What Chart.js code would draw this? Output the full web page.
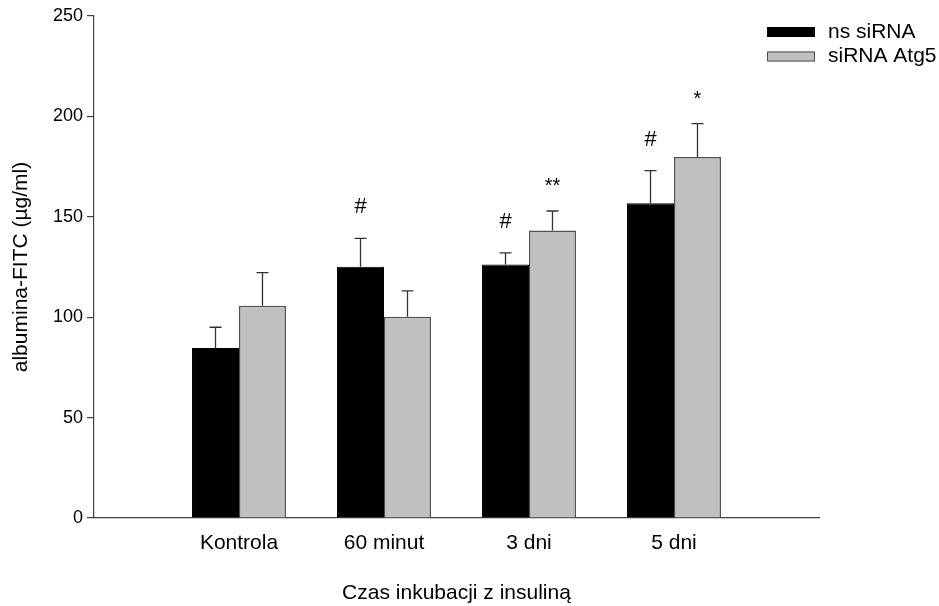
<!DOCTYPE html>
<html>
<head>
<meta charset="utf-8">
<script src="https://cdn.jsdelivr.net/npm/chart.js@4"></script>
<style>
html,body{margin:0;padding:0;background:#fff;}
#wrap{width:939px;height:606px;}
</style>
</head>
<body>
<div id="wrap"><canvas id="c" width="939" height="606"></canvas></div>
<script>
const categories = ['Kontrola', '60 minut', '3 dni', '5 dni'];
const seriesNames = ['ns siRNA', 'siRNA Atg5'];
const nsValues = [84.6, 125.1, 126.3, 156.7];
const nsErrors = [10.4, 14.2, 5.7, 16.3];
const atgValues = [105.7, 100.2, 143.2, 179.8];
const atgErrors = [16.5, 12.9, 9.7, 16.6];
const nsMarks = ['', '#', '#', '#'];
const atgMarks = ['', '', '**', '*'];
const yTicks = [0, 50, 100, 150, 200, 250];

const FONT = "'Liberation Sans', Arial, sans-serif";
const toPoints = arr => arr.map((v, i) => ({x: i + 1, y: v}));

const errorBarPlugin = {
  id: 'errorBars',
  afterDatasetsDraw(chart) {
    const ctx = chart.ctx;
    const yScale = chart.scales.y;
    chart.data.datasets.forEach((ds, di) => {
      const meta = chart.getDatasetMeta(di);
      meta.data.forEach((el, i) => {
        const v = ds.data[i].y;
        const e = ds.errors[i];
        const yTop = yScale.getPixelForValue(v + e);
        ctx.save();
        ctx.strokeStyle = '#333';
        ctx.lineWidth = 1.3;
        ctx.beginPath();
        ctx.moveTo(el.x, el.y);
        ctx.lineTo(el.x, yTop);
        ctx.moveTo(el.x - 6, yTop);
        ctx.lineTo(el.x + 6, yTop);
        ctx.stroke();
        const mark = ds.marks[i];
        if (mark) {
          ctx.fillStyle = '#000';
          ctx.textAlign = 'center';
          ctx.textBaseline = 'alphabetic';
          if (mark.indexOf('#') >= 0) {
            ctx.font = '22px ' + FONT;
            ctx.fillText(mark, el.x, yTop - 25);
          } else {
            ctx.font = '20px ' + FONT;
            ctx.fillText(mark, el.x, yTop - 19);
          }
        }
        ctx.restore();
      });
    });
  }
};

const legendPlugin = {
  id: 'customLegend',
  afterDraw(chart) {
    const ctx = chart.ctx;
    const right = chart.chartArea.right;
    ctx.save();
    chart.data.datasets.forEach((ds, di) => {
      const yc = 32 + di * 24.5;
      const bx = right - 52, bw = 48, bh = 10;
      ctx.fillStyle = ds.backgroundColor;
      ctx.fillRect(bx, yc - bh / 2, bw, bh);
      ctx.strokeStyle = ds.borderColor;
      ctx.lineWidth = 1;
      ctx.strokeRect(bx + 0.5, yc - bh / 2 + 0.5, bw - 1, bh - 1);
      ctx.fillStyle = '#000';
      ctx.font = '21px ' + FONT;
      ctx.textAlign = 'left';
      ctx.textBaseline = 'middle';
      ctx.fillText(ds.label, right + 9, yc);
    });
    ctx.restore();
  }
};

new Chart(document.getElementById('c'), {
  type: 'bar',
  data: {
    datasets: [
      {
        label: seriesNames[0],
        data: toPoints(nsValues),
        errors: nsErrors,
        marks: nsMarks,
        backgroundColor: '#000000',
        borderColor: '#000000',
        borderWidth: 1
      },
      {
        label: seriesNames[1],
        data: toPoints(atgValues),
        errors: atgErrors,
        marks: atgMarks,
        backgroundColor: '#c0c0c0',
        borderColor: '#505050',
        borderWidth: 1.5
      }
    ]
  },
  options: {
    responsive: false,
    animation: false,
    devicePixelRatio: 1,
    categoryPercentage: 0.648,
    barPercentage: 1.0,
    layout: {padding: {top: 16, right: 120, bottom: 0, left: 0}},
    plugins: {
      legend: {display: false},
      tooltip: {enabled: false}
    },
    scales: {
      x: {
        type: 'linear',
        min: 0,
        max: 5,
        offset: false,
        afterBuildTicks: s => { s.ticks = categories.map((c, i) => ({value: i + 1})); },
        afterFit: s => { s.height = 88; },
        grid: {display: false, drawTicks: false, offset: false},
        border: {display: true, color: '#404040', width: 1.2},
        ticks: {
          autoSkip: false,
          maxRotation: 0,
          padding: 13,
          color: '#000',
          font: {family: FONT, size: 21},
          callback: v => categories[v - 1] || ''
        },
        title: {
          display: true,
          text: 'Czas inkubacji z insuliną',
          color: '#000',
          font: {family: FONT, size: 21},
          padding: {top: 0, bottom: 0}
        }
      },
      y: {
        min: 0,
        max: 250,
        afterBuildTicks: s => { s.ticks = yTicks.map(v => ({value: v})); },
        afterFit: s => { s.width = 94; },
        grid: {display: true, drawOnChartArea: false, drawTicks: true, tickLength: 7, color: '#404040', lineWidth: 1.2},
        border: {display: true, color: '#404040', width: 1.2},
        ticks: {
          padding: 4,
          color: '#000',
          font: {family: FONT, size: 18}
        },
        title: {
          display: true,
          text: 'albumina-FITC (µg/ml)',
          color: '#000',
          font: {family: FONT, size: 21},
          padding: {top: 9, bottom: 0}
        }
      }
    }
  },
  plugins: [errorBarPlugin, legendPlugin]
});
</script>
</body>
</html>
